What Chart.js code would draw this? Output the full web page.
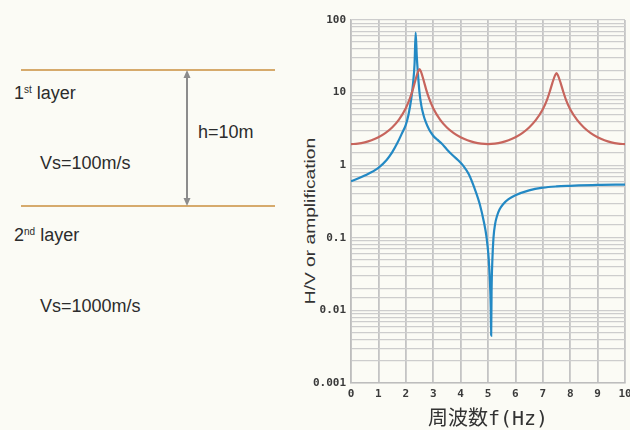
<!DOCTYPE html>
<html lang="ja">
<head>
<meta charset="UTF-8">
<script src="https://cdn.jsdelivr.net/npm/chart.js"></script>
<title>H/V</title>
<style>
  body { margin: 0; width: 630px; height: 430px; overflow: hidden; position: relative;
         background: #fbfbf5; font-family: "Liberation Sans", Arial, sans-serif; color: #2c2c2c; }
  .lbl { position: absolute; font-size: 18px; line-height: 18px; white-space: nowrap; }
  .lbl span { position: relative; top: -6px; font-size: 10px; }
  #ytitle { position: absolute; left: 309px; top: 221px; font-size: 15px; line-height: 15px;
            white-space: nowrap; color: #333;
            transform: translate(-50%, -50%) rotate(-90deg) scaleX(1.28); }
  #wrap { position: absolute; left: 290px; top: 0; }
</style>
</head>
<body>

<!-- two-layer soil model -->
<svg width="300" height="430" style="position:absolute;left:0;top:0">
  <line x1="21" y1="70" x2="275" y2="70" stroke="#d6aa6c" stroke-width="2"/>
  <line x1="21" y1="206" x2="275" y2="206" stroke="#d6aa6c" stroke-width="2"/>
  <line x1="187" y1="76" x2="187" y2="200" stroke="#8c8c8c" stroke-width="2"/>
  <polygon points="187,70 183.5,78 190.5,78" fill="#8c8c8c"/>
  <polygon points="187,206 183.5,198 190.5,198" fill="#8c8c8c"/>
</svg>
<div class="lbl" style="left:14px;top:84px">1<span>st</span> layer</div>
<div class="lbl" style="left:198px;top:123px">h=10m</div>
<div class="lbl" style="left:40px;top:154px">Vs=100m/s</div>
<div class="lbl" style="left:14px;top:226px">2<span>nd</span> layer</div>
<div class="lbl" style="left:40px;top:297px">Vs=1000m/s</div>

<div id="ytitle">H/V or amplification</div>
<div id="wrap"><canvas id="hv" width="340" height="430"></canvas></div>

<script>
// amplification of the surface layer (red)
const redFreq = [0,0.25,0.5,0.75,1,1.25,1.5,1.75,2,2.15,2.25,2.35,2.45,2.5,2.55,2.65,2.75,2.85,3,3.25,3.5,3.75,4,4.25,4.5,4.75,5,
  5.25,5.5,5.75,6,6.25,6.5,6.75,7,7.15,7.25,7.35,7.45,7.5,7.55,7.65,7.75,7.85,8,8.25,8.5,8.75,9,9.25,9.5,9.75,10];
const redAmp = [1.95,1.98,2.06,2.2,2.42,2.76,3.3,4.25,6.1,8.3,10.8,14.8,19.6,21,19.6,14.8,10.8,8.3,6.1,4.25,3.3,2.76,2.42,2.2,2.06,1.98,1.95,
  1.98,2.06,2.2,2.42,2.76,3.3,4.2,5.9,7.9,10.2,13.6,17.4,18.5,17.4,13.6,10.2,7.9,5.9,4.2,3.3,2.76,2.42,2.2,2.06,1.98,1.95];

// H/V spectral ratio (blue)
const blueFreq = [0,0.5,1,1.3,1.5,1.7,1.85,2,2.1,2.2,2.27,2.32,2.36,2.4,2.44,2.5,2.57,2.64,2.72,2.85,3,3.15,3.3,3.5,3.7,3.9,
  4.1,4.3,4.5,4.7,4.85,4.95,5.02,5.07,5.1,5.115,5.13,5.16,5.2,5.26,5.33,5.42,5.55,5.75,6,6.5,7,7.5,8,9,10];
const blueHV = [0.6,0.72,0.92,1.18,1.5,2.05,2.7,3.6,5.0,8.3,14,25,67,32,19,10,6.5,5.0,4.0,3.1,2.55,2.25,2.0,1.65,1.38,1.18,
  0.98,0.75,0.49,0.29,0.165,0.1,0.055,0.025,0.011,0.0045,0.018,0.05,0.1,0.155,0.2,0.245,0.29,0.34,0.385,0.45,0.49,0.51,0.52,0.535,0.54];

const xTicks = [0,1,2,3,4,5,6,7,8,9,10];
const yTickLabels = ['0.001','0.01','0.1','1','10','100'];

function pts(xs, ys) { return xs.map((x, i) => ({x: x, y: ys[i]})); }

const tickFont = {family: '"DejaVu Sans Mono", monospace', size: 11, weight: 'bold'};

new Chart(document.getElementById('hv'), {
  type: 'line',
  data: {
    datasets: [
      {data: pts(redFreq, redAmp), borderColor: '#c7655d', borderWidth: 2.2, pointRadius: 0,
       cubicInterpolationMode: 'monotone'},
      {data: pts(blueFreq, blueHV), borderColor: '#2389c4', borderWidth: 2.2, pointRadius: 0,
       cubicInterpolationMode: 'monotone'}
    ]
  },
  options: {
    responsive: false,
    animation: false,
    events: [],
    layout: {padding: {top: 20, right: 5, bottom: 0, left: 0}},
    plugins: {legend: {display: false}, tooltip: {enabled: false}},
    scales: {
      x: {
        type: 'linear', min: 0, max: 10,
        afterBuildTicks: s => { s.ticks = xTicks.map(v => ({value: v})); },
        afterFit: s => { s.height = 47; s.paddingLeft = 0; s.paddingRight = 0; },
        grid: {color: '#c4c4c4', lineWidth: 1.8, drawTicks: false},
        border: {color: '#bdbdbd', width: 1.5},
        ticks: {color: '#3a3a3a', font: tickFont, padding: 5, maxRotation: 0, autoSkip: false},
        title: {display: true, text: '周波数f(Hz)', color: '#333', padding: {top: 0, bottom: 0},
                font: {family: '"DejaVu Sans Mono", "Noto Sans CJK JP"', size: 20, lineHeight: 1}}
      },
      y: {
        type: 'logarithmic', min: 0.001, max: 100,
        afterFit: s => { s.width = 61; s.paddingTop = 0; s.paddingBottom = 0; },
        grid: {color: '#cdcdcd', lineWidth: 1.3, drawTicks: false},
        border: {color: '#bdbdbd', width: 1.5},
        ticks: {
          color: '#3a3a3a', font: tickFont, padding: 5, autoSkip: false,
          callback: v => {
            const e = Math.log10(v);
            return Math.abs(e - Math.round(e)) < 1e-9 ? yTickLabels[Math.round(e) + 3] : '';
          }
        }
      }
    }
  }
});
</script>
</body>
</html>
